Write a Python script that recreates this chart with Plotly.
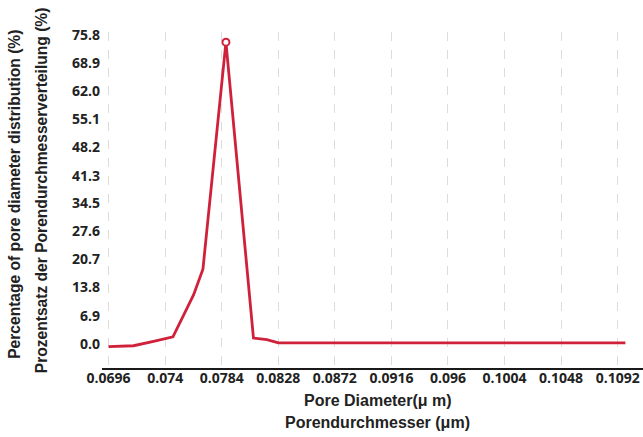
import plotly.graph_objects as go

# ---- data ----
pore_diameter = [0.0696, 0.07154, 0.07310, 0.07461, 0.07621, 0.07694,
                 0.07873, 0.08087, 0.08191, 0.08281, 0.1098]
percentage = [-0.7, -0.5, 0.6, 1.7, 12.0, 18.3, 74.1, 1.4, 1.0, 0.2, 0.2]

x_tick_labels = ["0.0696", "0.074", "0.0784", "0.0828", "0.0872", "0.0916",
                 "0.096", "0.1004", "0.1048", "0.1092"]
y_tick_labels = ["0.0", "6.9", "13.8", "20.7", "27.6", "34.5", "41.3",
                 "48.2", "55.1", "62.0", "68.9", "75.8"]

x_tick_vals = [float(t) for t in x_tick_labels]
y_tick_vals = [float(t) for t in y_tick_labels]

peak_i = max(range(len(percentage)), key=lambda i: percentage[i])

RED = "#d0213b"
TXT = "#222222"

fig = go.Figure()
fig.add_trace(go.Scatter(
    x=pore_diameter, y=percentage, mode="lines",
    line=dict(color=RED, width=2.8), showlegend=False, hoverinfo="x+y"))
fig.add_trace(go.Scatter(
    x=[pore_diameter[peak_i]], y=[percentage[peak_i]], mode="markers",
    marker=dict(symbol="circle", size=7, color="white",
                line=dict(color=RED, width=2)),
    showlegend=False, cliponaxis=False))

xt_font = dict(family="Liberation Sans, Arial, sans-serif", size=16,
               color=TXT, weight="bold")
yt_font = dict(family="Liberation Sans, Arial, sans-serif", size=15.6,
               color=TXT, weight="bold")
tick_font = dict(family="Open Sans, sans-serif", size=14, color=TXT,
                 weight="bold")

fig.update_layout(
    width=643, height=437,
    margin=dict(l=102, r=0, t=32, b=69),
    paper_bgcolor="white", plot_bgcolor="white",
    xaxis=dict(
        range=[0.06909, 0.11117], tickvals=x_tick_vals, ticktext=x_tick_labels,
        showgrid=True, gridcolor="#dcdcdc", griddash="dash", gridwidth=1,
        showline=True, linecolor="#1a1a1a", linewidth=1.5, zeroline=False,
        ticks="", tickfont=tick_font, ticklabelstandoff=-4,
    ),
    yaxis=dict(
        range=[-5.97, 76.6], tickvals=y_tick_vals, ticktext=y_tick_labels,
        showgrid=False, showline=False, zeroline=False, ticks="",
        tickfont=tick_font, ticklabelstandoff=1,
    ),
    annotations=[
        dict(text="Pore Diameter(μ m)", xref="paper", yref="paper",
             x=0.510, y=-0.098, xanchor="center", yanchor="middle",
             showarrow=False, font=xt_font),
        dict(text="Porendurchmesser (μm)", xref="paper", yref="paper",
             x=0.510, y=-0.162, xanchor="center", yanchor="middle",
             showarrow=False, font=xt_font),
        dict(text="Percentage of pore diameter distribution (%)",
             xref="paper", yref="paper", x=-0.161, y=0.518,
             xanchor="center", yanchor="middle", textangle=-90,
             showarrow=False, font=yt_font),
        dict(text="Prozentsatz der Porendurchmesserverteilung (%)",
             xref="paper", yref="paper", x=-0.1115, y=0.528,
             xanchor="center", yanchor="middle", textangle=-90,
             showarrow=False, font=yt_font),
    ],
)

fig.write_html("out.html",
               config={"displayModeBar": False},
               post_script="document.body.style.margin='0';"
                           "document.body.style.overflow='hidden';")
